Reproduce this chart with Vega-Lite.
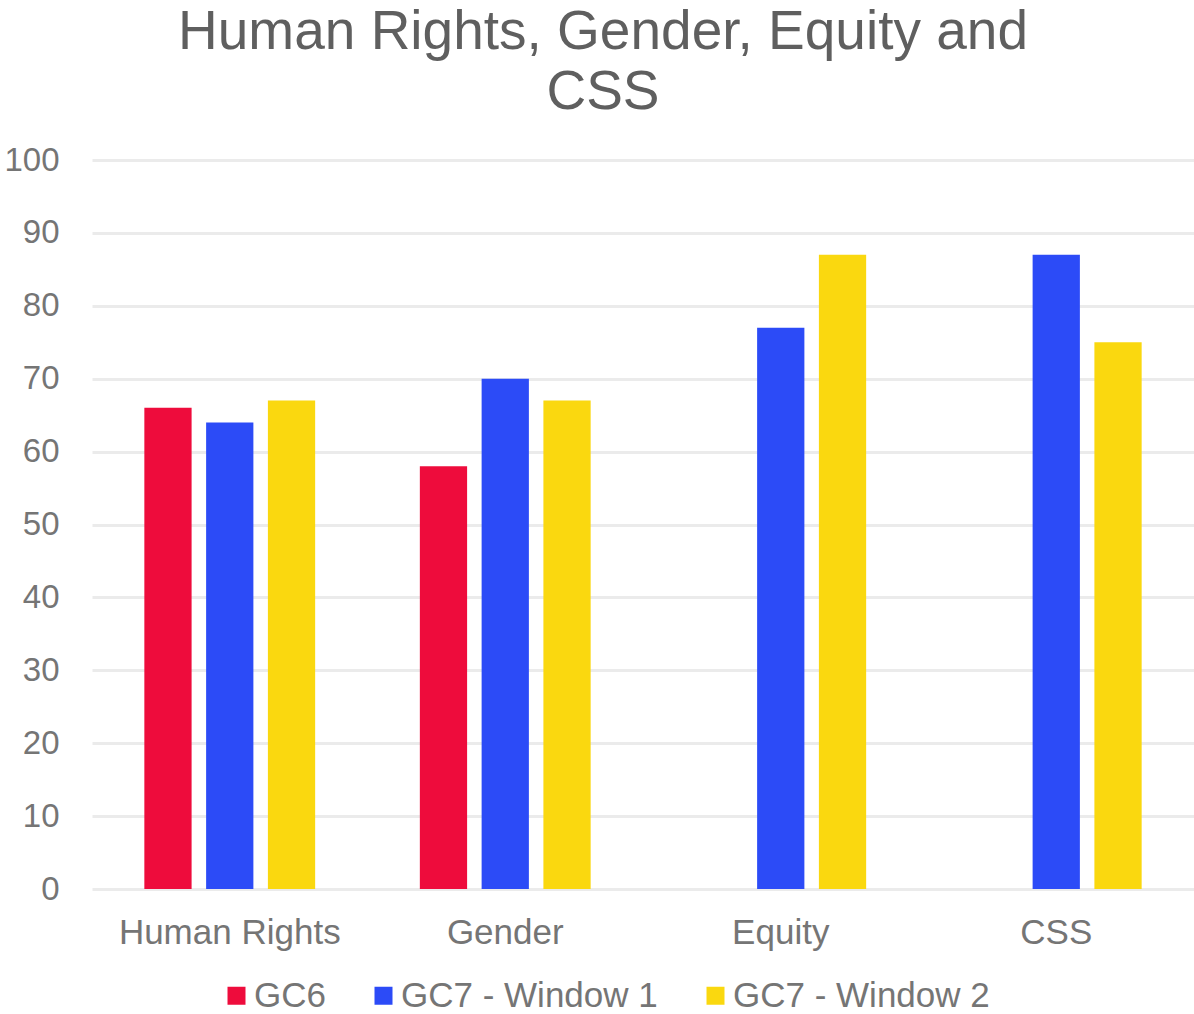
{
  "$schema": "https://vega.github.io/schema/vega-lite/v6.json",
  "width": 1102,
  "height": 729,
  "autosize": {"type": "none"},
  "padding": {"left": 92, "top": 160, "right": 0, "bottom": 125},
  "background": "white",
  "title": {
    "text": ["Human Rights, Gender, Equity and", "CSS"],
    "font": "Liberation Sans",
    "fontSize": 55,
    "fontWeight": "normal",
    "color": "#5f5f5f",
    "lineHeight": 60,
    "anchor": "middle",
    "dx": -40,
    "offset": 23
  },
  "data": {
    "values": [
      {"category": "Human Rights", "series": "GC6", "value": 66},
      {"category": "Human Rights", "series": "GC7 - Window 1", "value": 64},
      {"category": "Human Rights", "series": "GC7 - Window 2", "value": 67},
      {"category": "Gender", "series": "GC6", "value": 58},
      {"category": "Gender", "series": "GC7 - Window 1", "value": 70},
      {"category": "Gender", "series": "GC7 - Window 2", "value": 67},
      {"category": "Equity", "series": "GC7 - Window 1", "value": 77},
      {"category": "Equity", "series": "GC7 - Window 2", "value": 87},
      {"category": "CSS", "series": "GC7 - Window 1", "value": 87},
      {"category": "CSS", "series": "GC7 - Window 2", "value": 75}
    ]
  },
  "mark": {"type": "bar"},
  "encoding": {
    "x": {
      "field": "category",
      "type": "nominal",
      "sort": ["Human Rights", "Gender", "Equity", "CSS"],
      "scale": {"paddingInner": 0.38, "paddingOuter": 0.19},
      "axis": {
        "title": null,
        "labelAngle": 0,
        "labelFont": "Liberation Sans",
        "labelFontSize": 35,
        "labelColor": "#757575",
        "labelPadding": 26,
        "labelLimit": 0,
        "ticks": false,
        "domain": false,
        "grid": false
      }
    },
    "xOffset": {
      "field": "series",
      "type": "nominal",
      "scale": {"domain": ["GC6", "GC7 - Window 1", "GC7 - Window 2"], "paddingInner": 0.235, "paddingOuter": 0}
    },
    "y": {
      "field": "value",
      "type": "quantitative",
      "scale": {"domain": [0, 100], "nice": false},
      "axis": {
        "title": null,
        "values": [0, 10, 20, 30, 40, 50, 60, 70, 80, 90, 100],
        "labelFont": "Liberation Sans",
        "labelFontSize": 33,
        "labelColor": "#757575",
        "labelPadding": 33,
        "ticks": false,
        "domain": false,
        "grid": true,
        "gridColor": "#ebebeb",
        "gridWidth": 3
      }
    },
    "color": {
      "field": "series",
      "type": "nominal",
      "scale": {
        "domain": ["GC6", "GC7 - Window 1", "GC7 - Window 2"],
        "range": ["#EE0C3C", "#2C4BF7", "#FAD80F"]
      },
      "legend": {
        "title": null,
        "orient": "none",
        "direction": "horizontal",
        "legendX": 127,
        "legendY": 818,
        "symbolType": "square",
        "symbolSize": 324,
        "symbolStrokeWidth": 0,
        "labelFont": "Liberation Sans",
        "labelFontSize": 35,
        "labelColor": "#757575",
        "labelOffset": 0,
        "labelLimit": 0,
        "columnPadding": 40
      }
    }
  },
  "config": {"view": {"stroke": null}}
}
